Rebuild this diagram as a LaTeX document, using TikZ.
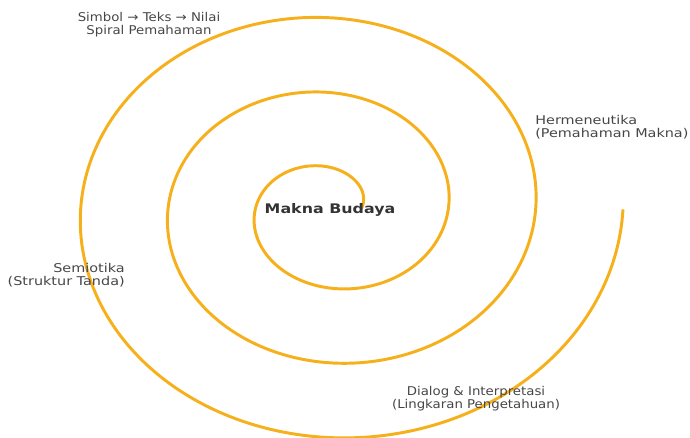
\documentclass[tikz,border=0pt]{standalone}
\usepackage{fontspec}
\setmainfont{DejaVu Sans}
\usetikzlibrary{calc}
\definecolor{spiralgold}{RGB}{245,176,28}
\definecolor{labelgray}{RGB}{70,70,70}
\tikzset{
  basetxt/.style={font=\fontsize{8.6}{9.2}\selectfont, text=labelgray, inner sep=0pt},
  lbl/.style={basetxt, xscale=1.1},
  widelbl/.style={basetxt, xscale=1.19},
  spiral/.style={draw=spiralgold, line width=2.1pt}
}

\begin{document}
\begin{tikzpicture}[x=0.025cm, y=-0.025cm]
\useasboundingbox (0,0) rectangle (690,438);
\coordinate (c) at (330,210);
% the spiral, three turns outward
\draw[spiral] plot[domain=0:18.85, samples=420, smooth]
  ({330 + (31+13.9*\x)*cos(\x r)}, {209 - (23+11.9*\x)*sin(\x r)});
\node[font=\fontsize{9.4}{11}\bfseries\selectfont, text=black!80, inner sep=0pt, xscale=1.2] (core) at (c) {Makna Budaya};
\node[lbl, align=center] (top) at (149,24.5) {Simbol → Teks → Nilai\\Spiral Pemahaman};
\node[widelbl, align=left, anchor=west] (herm) at (535,127) {Hermeneutika\\(Pemahaman Makna)};
\node[widelbl, align=right, anchor=east] (semi) at (125,275) {Semiotika\\(Struktur Tanda)};
\node[lbl, align=center] (dial) at (476,399) {Dialog \& Interpretasi\\(Lingkaran Pengetahuan)};
\end{tikzpicture}
\end{document}
